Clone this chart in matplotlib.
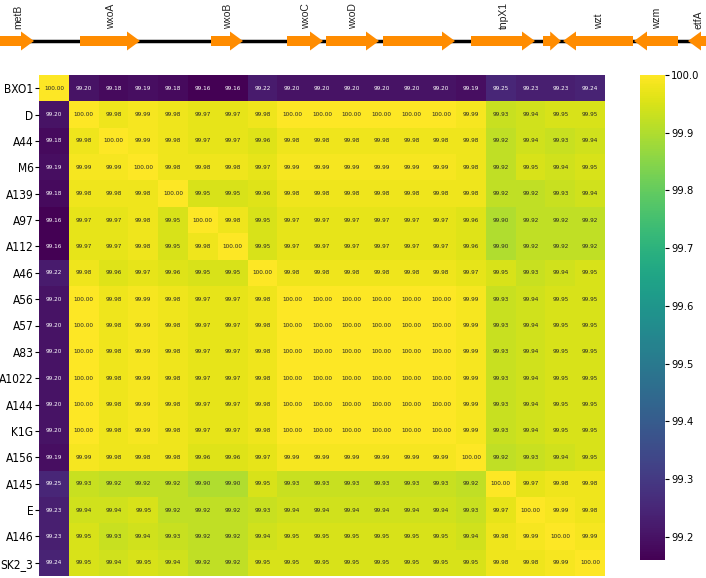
import numpy as np
import matplotlib
matplotlib.use("Agg")
import matplotlib.pyplot as plt
from matplotlib.patches import Polygon

strains = ['BXO1', 'D', 'A44', 'M6', 'A139', 'A97', 'A112', 'A46', 'A56', 'A57',
           'A83', 'A1022', 'A144', 'K1G', 'A156', 'A145', 'E', 'A146', 'SK2_3']

identity = [
    [100.00, 99.20, 99.18, 99.19, 99.18, 99.16, 99.16, 99.22, 99.20, 99.20, 99.20, 99.20, 99.20, 99.20, 99.19, 99.25, 99.23, 99.23, 99.24],
    [99.20, 100.00, 99.98, 99.99, 99.98, 99.97, 99.97, 99.98, 100.00, 100.00, 100.00, 100.00, 100.00, 100.00, 99.99, 99.93, 99.94, 99.95, 99.95],
    [99.18, 99.98, 100.00, 99.99, 99.98, 99.97, 99.97, 99.96, 99.98, 99.98, 99.98, 99.98, 99.98, 99.98, 99.98, 99.92, 99.94, 99.93, 99.94],
    [99.19, 99.99, 99.99, 100.00, 99.98, 99.98, 99.98, 99.97, 99.99, 99.99, 99.99, 99.99, 99.99, 99.99, 99.98, 99.92, 99.95, 99.94, 99.95],
    [99.18, 99.98, 99.98, 99.98, 100.00, 99.95, 99.95, 99.96, 99.98, 99.98, 99.98, 99.98, 99.98, 99.98, 99.98, 99.92, 99.92, 99.93, 99.94],
    [99.16, 99.97, 99.97, 99.98, 99.95, 100.00, 99.98, 99.95, 99.97, 99.97, 99.97, 99.97, 99.97, 99.97, 99.96, 99.90, 99.92, 99.92, 99.92],
    [99.16, 99.97, 99.97, 99.98, 99.95, 99.98, 100.00, 99.95, 99.97, 99.97, 99.97, 99.97, 99.97, 99.97, 99.96, 99.90, 99.92, 99.92, 99.92],
    [99.22, 99.98, 99.96, 99.97, 99.96, 99.95, 99.95, 100.00, 99.98, 99.98, 99.98, 99.98, 99.98, 99.98, 99.97, 99.95, 99.93, 99.94, 99.95],
    [99.20, 100.00, 99.98, 99.99, 99.98, 99.97, 99.97, 99.98, 100.00, 100.00, 100.00, 100.00, 100.00, 100.00, 99.99, 99.93, 99.94, 99.95, 99.95],
    [99.20, 100.00, 99.98, 99.99, 99.98, 99.97, 99.97, 99.98, 100.00, 100.00, 100.00, 100.00, 100.00, 100.00, 99.99, 99.93, 99.94, 99.95, 99.95],
    [99.20, 100.00, 99.98, 99.99, 99.98, 99.97, 99.97, 99.98, 100.00, 100.00, 100.00, 100.00, 100.00, 100.00, 99.99, 99.93, 99.94, 99.95, 99.95],
    [99.20, 100.00, 99.98, 99.99, 99.98, 99.97, 99.97, 99.98, 100.00, 100.00, 100.00, 100.00, 100.00, 100.00, 99.99, 99.93, 99.94, 99.95, 99.95],
    [99.20, 100.00, 99.98, 99.99, 99.98, 99.97, 99.97, 99.98, 100.00, 100.00, 100.00, 100.00, 100.00, 100.00, 99.99, 99.93, 99.94, 99.95, 99.95],
    [99.20, 100.00, 99.98, 99.99, 99.98, 99.97, 99.97, 99.98, 100.00, 100.00, 100.00, 100.00, 100.00, 100.00, 99.99, 99.93, 99.94, 99.95, 99.95],
    [99.19, 99.99, 99.98, 99.98, 99.98, 99.96, 99.96, 99.97, 99.99, 99.99, 99.99, 99.99, 99.99, 99.99, 100.00, 99.92, 99.93, 99.94, 99.95],
    [99.25, 99.93, 99.92, 99.92, 99.92, 99.90, 99.90, 99.95, 99.93, 99.93, 99.93, 99.93, 99.93, 99.93, 99.92, 100.00, 99.97, 99.98, 99.98],
    [99.23, 99.94, 99.94, 99.95, 99.92, 99.92, 99.92, 99.93, 99.94, 99.94, 99.94, 99.94, 99.94, 99.94, 99.93, 99.97, 100.00, 99.99, 99.98],
    [99.23, 99.95, 99.93, 99.94, 99.93, 99.92, 99.92, 99.94, 99.95, 99.95, 99.95, 99.95, 99.95, 99.95, 99.94, 99.98, 99.99, 100.00, 99.99],
    [99.24, 99.95, 99.94, 99.95, 99.94, 99.92, 99.92, 99.95, 99.95, 99.95, 99.95, 99.95, 99.95, 99.95, 99.95, 99.98, 99.98, 99.99, 100.00],
]

# gene map along the top (coordinates in figure pixels)
gene_names = ['metB', 'wxoA', 'wxoB', 'wxoC', 'wxoD', '', 'tnpX1', '', 'wzt', 'wzm', 'etfA']
gene_start = [0, 80, 211, 287, 326, 383, 471, 543, 563, 634, 688]
gene_end = [34, 140, 243, 323, 379, 455, 535, 561, 633, 678, 712]
gene_strand = [1, 1, 1, 1, 1, 1, 1, 1, -1, -1, -1]

W, H = 706, 578
fig = plt.figure(figsize=(W / 100, H / 100), dpi=100)
plt.rcParams['font.stretch'] = 'condensed'

# --- gene arrows ---
gax = fig.add_axes([0, 1 - 62 / H, 1, 62 / H])
gax.set_xlim(0, W)
gax.set_ylim(62, 0)
gax.axis('off')
yc = 41
gax.plot([0, W], [yc, yc], color='black', lw=2.5, zorder=1)
for name, s, e, st in zip(gene_names, gene_start, gene_end, gene_strand):
    head = min(13, (e - s) * 0.6)
    if st > 0:
        pts = [(s, yc - 5), (e - head, yc - 5), (e - head, yc - 9.5), (e, yc),
               (e - head, yc + 9.5), (e - head, yc + 5), (s, yc + 5)]
    else:
        pts = [(e, yc - 5), (s + head, yc - 5), (s + head, yc - 9.5), (s, yc),
               (s + head, yc + 9.5), (s + head, yc + 5), (e, yc + 5)]
    gax.add_patch(Polygon(pts, closed=True, facecolor='#ff8c00', edgecolor='none', zorder=2))
    if name:
        gax.text((s + min(e, W)) / 2 + 1, 29, name, rotation=90, ha='center', va='bottom',
                 fontsize=7.5, family='Liberation Sans', fontstretch='normal', color='#222222')

# --- heatmap ---
data = np.array(identity)
n = len(strains)
ax = fig.add_axes([39 / W, 2 / H, 566 / W, 501 / H])
cax = fig.add_axes([640 / W, 18 / H, 25 / W, 485 / H])
vmin, vmax = data.min(), data.max()
mesh = ax.pcolormesh(data, cmap='viridis', vmin=vmin, vmax=vmax)
ax.set_xlim(0, n)
ax.set_ylim(n, 0)
cmap = plt.get_cmap('viridis')
for i in range(n):
    for j in range(n):
        v = data[i, j]
        r, g, b, _ = cmap((v - vmin) / (vmax - vmin))
        lum = 0.2126 * r + 0.7152 * g + 0.0722 * b
        ax.text(j + 0.5, i + 0.5, f'{v:.2f}', ha='center', va='center', fontsize=4.6,
                fontstretch='condensed', color='white' if lum < 0.408 else '#262626')
ax.set_xticks([])
ax.set_yticks(np.arange(n) + 0.5)
ax.set_yticklabels(strains, fontsize=8.6, fontstretch='condensed')
ax.tick_params(axis='y', length=3, width=0.8, pad=1)
for sp in ax.spines.values():
    sp.set_visible(False)

cb = fig.colorbar(mesh, cax=cax)
cb.set_ticks([99.2, 99.3, 99.4, 99.5, 99.6, 99.7, 99.8, 99.9, 100.0])
cb.ax.tick_params(labelsize=8, length=3, pad=1.5)
for t in cb.ax.get_yticklabels():
    t.set_fontstretch('condensed')
cb.outline.set_visible(False)

fig.savefig('out.png', dpi=100, facecolor='white')
